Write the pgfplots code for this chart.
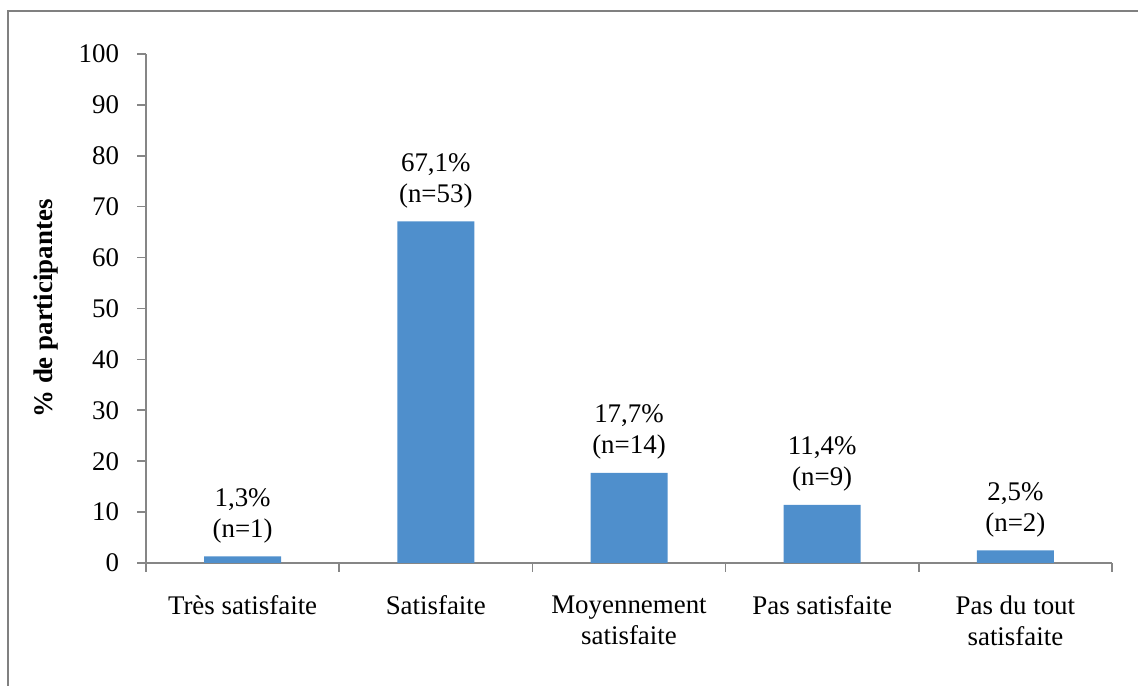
\documentclass[border=0pt]{standalone}
\usepackage{fontspec}
\setmainfont{Liberation Serif}
\usepackage{pgfplots}
\pgfplotsset{compat=1.18}
\definecolor{barblue}{RGB}{79,143,204}
\definecolor{axgray}{RGB}{134,134,134}
\definecolor{framegray}{RGB}{128,128,128}
\newcommand{\lblfont}{\fontsize{13.5}{15.5}\selectfont}
\begin{document}
\begin{tikzpicture}
\useasboundingbox (0,0) rectangle (569bp,343bp);
\draw[color=framegray, line width=1bp] (4bp,-20bp) rectangle (600bp,337.5bp);
\begin{axis}[
  at={(73bp,61.5bp)}, anchor=south west,
  scale only axis, width=483bp, height=254.5bp,
  xmin=-0.5, xmax=4.5, ymin=0, ymax=100,
  axis x line=bottom, axis y line=left,
  axis line style={axgray, line width=0.8bp, -},
  every tick/.style={axgray, line width=0.8bp},
  tick align=outside, major tick length=4.5bp,
  xtick={-0.5,0.5,...,4.5}, xticklabels={{},{},{},{},{},{}},
  extra x ticks={0,1,2,3,4},
  extra x tick labels={Très satisfaite, Satisfaite, {Moyennement\\satisfaite}, Pas satisfaite, {Pas du tout\\satisfaite}},
  extra x tick style={major tick length=0pt, xticklabel style={align=center, yshift=-13bp}},
  ytick={0,10,...,100},
  yticklabel style={xshift=-5.5bp},
  tick label style={font=\lblfont, text=black},
  /pgf/number format/assume math mode=true,
  ylabel={\% de participantes},
  every axis y label/.style={at={(axis description cs:-0.1035,0.5)}, rotate=90, anchor=center, font=\fontsize{13.5}{15.5}\selectfont\bfseries},
]
\addplot[ybar, bar width=38.5bp, fill=barblue, draw=none,
  nodes near coords, point meta=explicit symbolic,
  every node near coord/.style={align=center, anchor=south, inner sep=0pt, yshift=6.5bp, font=\lblfont, text=black}]
  coordinates {
  (0,1.3) [{1,3\%\\(n=1)}]
  (1,67.1) [{67,1\%\\(n=53)}]
  (2,17.7) [{17,7\%\\(n=14)}]
  (3,11.4) [{11,4\%\\(n=9)}]
  (4,2.5) [{2,5\%\\(n=2)}]
  };
\end{axis}
\end{tikzpicture}
\end{document}
